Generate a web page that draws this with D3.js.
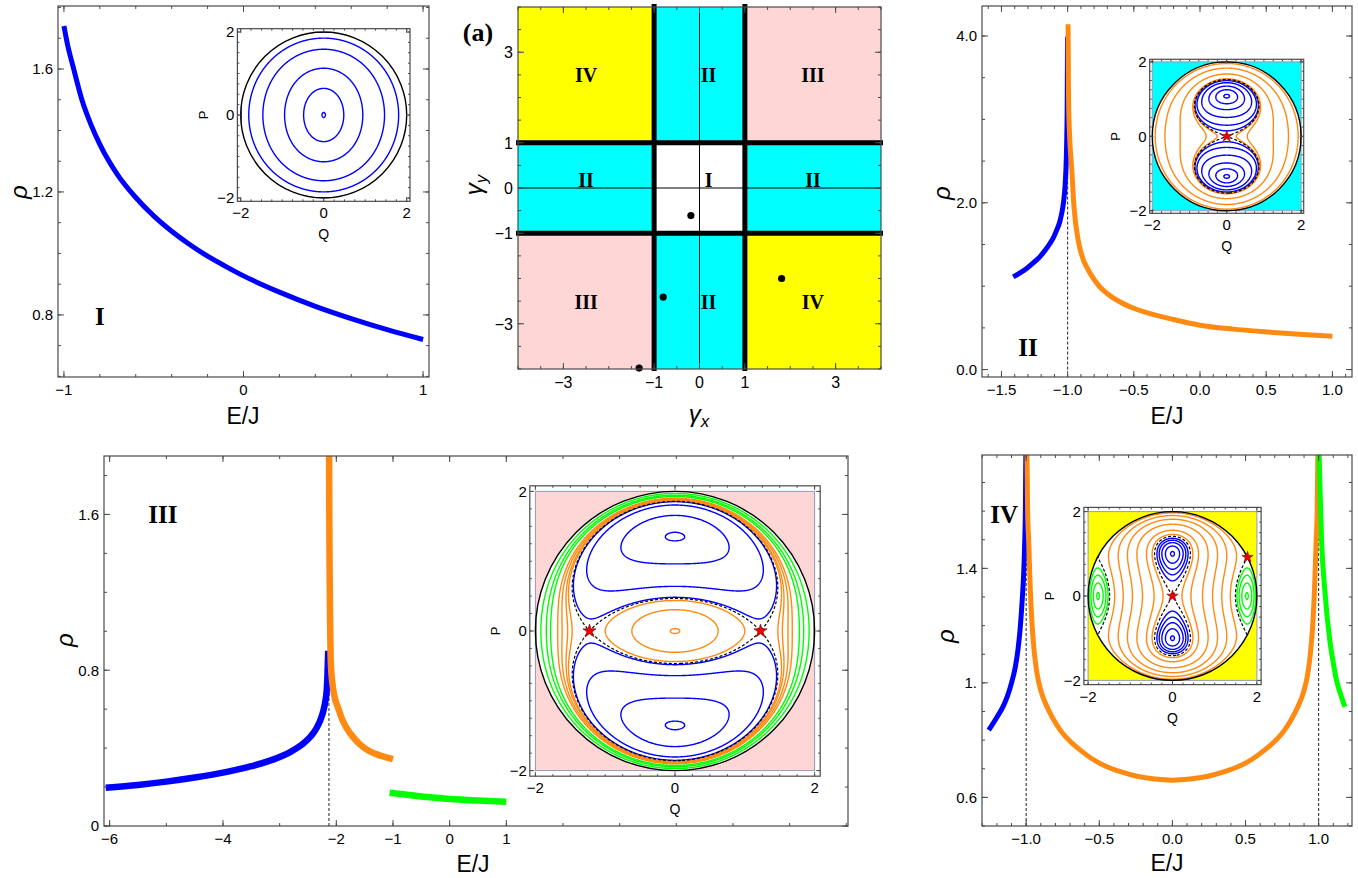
<!DOCTYPE html>
<html>
<head>
<meta charset="utf-8">
<script src="https://cdn.jsdelivr.net/npm/d3@7"></script>
<style>
  body { margin: 0; background: #fff; }
  svg { display: block; font-family: "Liberation Sans", Arial, sans-serif; }
</style>
</head>
<body>
<svg width="1358" height="878"></svg>
<script>
/* global d3 */

const svg = d3.select('svg')
const defs = svg.append('defs')

const BLUE = '#0000ff'
const ORANGE = '#ff8a12'
const GREEN = '#00ff00'
const CYAN = '#00ffff'
const YELLOW = '#ffff00'
const PINK = '#ffd6d6'
const FRAME = '#4a4a4a'

// ---------- rho(E) curves: [E/J, rho]
const curveI = [[-1, 1.74], [-0.98, 1.68], [-0.95, 1.61], [-0.9, 1.5], [-0.85, 1.42], [-0.8, 1.355], [-0.7, 1.255], [-0.6, 1.182], [-0.5, 1.122], [-0.4, 1.072], [-0.3, 1.029], [-0.2, 0.991], [-0.1, 0.958], [0, 0.927], [0.2, 0.874], [0.4, 0.828], [0.6, 0.788], [0.8, 0.752], [1, 0.72]]

const curveIIblue = [[-1.411, 1.112], [-1.36, 1.16], [-1.31, 1.212], [-1.26, 1.28], [-1.21, 1.352], [-1.17, 1.43], [-1.134, 1.512], [-1.105, 1.59], [-1.083, 1.672], [-1.06, 1.77], [-1.045, 1.873], [-1.03, 2.02], [-1.02, 2.19], [-1.013, 2.4], [-1.008, 2.67], [-1.003, 3.23], [-1.001, 3.99]]
const curveIIorange = [[-0.997, 4.14], [-0.993, 3.23], [-0.985, 2.8], [-0.97, 2.43], [-0.952, 1.95], [-0.92, 1.55], [-0.88, 1.31], [-0.856, 1.23], [-0.8, 1.08], [-0.756, 0.99], [-0.7, 0.91], [-0.604, 0.81], [-0.5, 0.735], [-0.377, 0.67], [-0.2, 0.6], [0, 0.532], [0.25, 0.485], [0.505, 0.451], [0.75, 0.423], [1.0, 0.4]]

const curveIIIblue = [[-6.07, 0.197], [-5.5, 0.211], [-5.0, 0.228], [-4.5, 0.249], [-4.0, 0.274], [-3.5, 0.307], [-3.0, 0.354], [-2.8, 0.382], [-2.6, 0.42], [-2.45, 0.461], [-2.35, 0.502], [-2.28, 0.545], [-2.23, 0.59], [-2.195, 0.638], [-2.17, 0.695], [-2.158, 0.76], [-2.15, 0.83], [-2.143, 0.9]]
const curveIIIorange = [[-2.128, 1.95], [-2.124, 1.6], [-2.118, 1.294], [-2.11, 1.05], [-2.1, 0.865], [-2.085, 0.78], [-2.06, 0.711], [-2.02, 0.65], [-1.97, 0.608], [-1.9, 0.55], [-1.823, 0.505], [-1.7, 0.455], [-1.588, 0.42], [-1.45, 0.39], [-1.294, 0.369], [-1.15, 0.355], [-1.0, 0.343]]
const curveIIIgreen = [[-1.06, 0.171], [-0.75, 0.16], [-0.5, 0.152], [-0.25, 0.145], [0, 0.139], [0.5, 0.131], [1.0, 0.124]]

const curveIVblue = [[-1.256, 0.835], [-1.199, 0.881], [-1.16, 0.915], [-1.13, 0.951], [-1.1, 1.0], [-1.074, 1.056], [-1.055, 1.12], [-1.04, 1.196], [-1.027, 1.29], [-1.017, 1.382], [-1.01, 1.49], [-1.005, 1.615], [-1.002, 1.82]]
const curveIVorange = [[-0.995, 1.82], [-0.99, 1.6], [-0.983, 1.498], [-0.972, 1.33], [-0.96, 1.207], [-0.945, 1.11], [-0.926, 1.033], [-0.895, 0.965], [-0.857, 0.916], [-0.815, 0.874], [-0.767, 0.835], [-0.7, 0.796], [-0.63, 0.765], [-0.55, 0.735], [-0.448, 0.707], [-0.35, 0.689], [-0.243, 0.674], [-0.12, 0.664], [0, 0.66], [0.12, 0.664], [0.243, 0.674], [0.35, 0.689], [0.448, 0.707], [0.55, 0.735], [0.63, 0.765], [0.7, 0.796], [0.767, 0.835], [0.815, 0.874], [0.857, 0.916], [0.895, 0.965], [0.926, 1.033], [0.945, 1.11], [0.96, 1.207], [0.972, 1.33], [0.983, 1.498], [0.99, 1.6], [0.995, 1.82]]
const curveIVgreen = [[1.002, 1.82], [1.008, 1.7], [1.02, 1.498], [1.042, 1.324], [1.076, 1.149], [1.1, 1.07], [1.122, 1.009], [1.15, 0.96], [1.179, 0.916]]

// ---------- phase diagram (a)
const gammaTicks = [-3, -1, 0, 1, 3]
const gammaTickLabels = ['\u22123', '\u22121', '0', '1', '3']
const regionColors = [
  [[-4, -1], [1, 4], YELLOW], [[-1, 1], [1, 4], CYAN], [[1, 4], [1, 4], PINK],
  [[-4, -1], [-1, 1], CYAN], [[-1, 1], [-1, 1], '#ffffff'], [[1, 4], [-1, 1], CYAN],
  [[-4, -1], [-4, -1], PINK], [[-1, 1], [-4, -1], CYAN], [[1, 4], [-4, -1], YELLOW]
]
const regionLabels = [['IV', -2.5, 2.5], ['II', 0.2, 2.5], ['III', 2.5, 2.5], ['II', -2.5, 0.17], ['I', 0.2, 0.17], ['II', 2.5, 0.17], ['III', -2.5, -2.53], ['II', 0.2, -2.53], ['IV', 2.5, -2.53]]
const boundaries = [-1, 1]
const parameterDots = [[-0.19, -0.61], [-0.8, -2.41], [1.81, -2.0], [-1.33, -3.98]]

// ---------- phase-space insets: (gamma_x, gamma_y) and contour energies
const paramsI = [-0.2, -0.6]
const levelsIblue = [-0.9993, -0.905, -0.625, -0.025, 0.57]

const paramsII = [-0.8, -2.4]
const levelsIIblue = [-1.405, -1.36, -1.28, -1.16, -1.06, -1.015]
const levelsIIorange = [-0.993, -0.96, -0.6, 0.035, 0.73]
const separatrixII = [-1]
const starsII = [[0, 0]]

const paramsIII = [-4, -12]
const levelsIIIblue = [-6.0, -4.8, -3.0, -2.2]
const levelsIIIorangeIn = [-2.0, -1.5, -1.007]
const levelsIIIorangeOut = [-1.9, -1.75, -1.5, -1.25]
const levelsIIIgreen = [-0.72, -0.32, 0.28]
const separatrixIII = [-2.125]
const starsIII = [[-1.225, 0], [1.225, 0]]

const paramsIV = [1.8, -2]
const levelsIVblue = [-1.247, -1.21, -1.16, -1.11, -1.06]
const levelsIVorange = [-0.93, -0.74, -0.35, 0.08, 0.49, 0.835]
const levelsIVgreen = [1.175, 1.14, 1.09, 1.04]
const separatrixIV = [-1, 0.999]
const starsIV = [[0, 0], [1.777, 0.918]]

// classical energy surface used for the contour insets
function energy (q, p, gx, gy) {
  const r2 = q * q + p * p
  return -1 + r2 / 2 + (1 - r2 / 4) * (gx * q * q + gy * p * p) / 2
}

// ---------- helpers
let clipCount = 0

function minorTicks (dom, step) {
  const s = Math.ceil(dom[0] / step - 1e-9)
  const e = Math.floor(dom[1] / step + 1e-9)
  return d3.range(s, e + 1).map(i => +(i * step).toFixed(6))
}

function label (g, x, y, s, o = {}) {
  const t = g.append('text')
    .attr('x', x).attr('y', y)
    .attr('text-anchor', o.anchor || 'middle')
    .attr('font-size', o.size || 15)
    .attr('fill', '#000')
    .text(s)
  if (o.rotate) t.attr('transform', `rotate(${o.rotate},${x},${y})`)
  if (o.italic) t.attr('font-style', 'italic')
  if (o.serif) t.attr('font-family', '"Liberation Serif", "Times New Roman", serif').attr('font-weight', 'bold')
  if (o.dy) t.attr('dy', o.dy)
  return t
}

function frame (g, x, y, xt, yt, o = {}) {
  const [x0, x1] = x.range()
  const [y1, y0] = y.range()
  const L = o.major || 6
  const l = o.minor || 3
  const tg = g.append('g').attr('stroke', FRAME).attr('stroke-width', 1)
  const seg = (a, b, c, d) => tg.append('line').attr('x1', a).attr('y1', b).attr('x2', c).attr('y2', d)
  minorTicks(x.domain(), xt.step).forEach(v => {
    const px = x(v)
    seg(px, y1, px, y1 - l); seg(px, y0, px, y0 + l)
  })
  minorTicks(y.domain(), yt.step).forEach(v => {
    const py = y(v)
    seg(x0, py, x0 + l, py); seg(x1, py, x1 - l, py)
  })
  xt.values.forEach(v => {
    const px = x(v)
    seg(px, y1, px, y1 - L); seg(px, y0, px, y0 + L)
  })
  yt.values.forEach(v => {
    const py = y(v)
    seg(x0, py, x0 + L, py); seg(x1, py, x1 - L, py)
  })
  g.append('rect')
    .attr('x', x0).attr('y', y0).attr('width', x1 - x0).attr('height', y1 - y0)
    .attr('fill', 'none').attr('stroke', FRAME).attr('stroke-width', 1.2)
  const fs = o.fontSize || 15
  xt.values.forEach((v, i) => label(g, x(v), y1 + (o.xOff || 18), xt.labels[i], { size: fs }))
  yt.values.forEach((v, i) => label(g, x0 - (o.yOff || 5), y(v) + fs * 0.36, yt.labels[i], { size: fs, anchor: 'end' }))
}

function clipRect (x, y) {
  const id = 'clip' + (clipCount++)
  const [x0, x1] = x.range()
  const [y1, y0] = y.range()
  defs.append('clipPath').attr('id', id).append('rect')
    .attr('x', x0).attr('y', y0).attr('width', x1 - x0).attr('height', y1 - y0)
  return `url(#${id})`
}

function mainPanel (cfg) {
  const x = d3.scaleLinear().domain(cfg.xDom).range([cfg.box[0], cfg.box[1]])
  const y = d3.scaleLinear().domain(cfg.yDom).range([cfg.box[3], cfg.box[2]])
  const g = svg.append('g')
  const cg = g.append('g').attr('clip-path', clipRect(x, y))
  const line = d3.line().x(d => x(d[0])).y(d => y(d[1])).curve(d3.curveMonotoneX)
  ;(cfg.dashed || []).forEach(d => {
    cg.append('line')
      .attr('x1', x(d[0])).attr('x2', x(d[0]))
      .attr('y1', y(d[1])).attr('y2', y(d[2]))
      .attr('stroke', '#222').attr('stroke-width', 1).attr('stroke-dasharray', '3,2')
  })
  cfg.curves.forEach(c => {
    cg.append('path').datum(c[0]).attr('d', line)
      .attr('fill', 'none').attr('stroke', c[1]).attr('stroke-width', cfg.lw)
  })
  frame(g, x, y, cfg.xt, cfg.yt, { fontSize: 15 })
  label(g, cfg.rhoPos[0], cfg.rhoPos[1], '\u03c1', { size: 24, italic: true, rotate: -90, dy: '0.35em' })
  label(g, cfg.ejPos[0], cfg.ejPos[1], 'E/J', { size: 23, dy: '0.35em' })
  label(g, x(cfg.roman[1]), y(cfg.roman[2]), cfg.roman[0], { size: 25, serif: true, dy: '0.35em' })
  return { x, y, g }
}

const N = 400

function contourLines (g, x, y, gx, gy, gr) {
  const values = new Float64Array(N * N)
  for (let j = 0; j < N; j++) {
    for (let i = 0; i < N; i++) {
      const q = -2 + 4 * (i + 0.5) / N
      const p = 2 - 4 * (j + 0.5) / N
      let v = q * q + p * p > 4 ? 1 : energy(q, p, gx, gy)
      if (gr.mask && !gr.mask(q, p)) v = -100
      values[j * N + i] = v
    }
  }
  const path = d3.geoPath(d3.geoTransform({
    point (a, b) { this.stream.point(x(-2 + 4 * a / N), y(2 - 4 * b / N)) }
  }))
  const contours = d3.contours().size([N, N]).thresholds(gr.levels)(values)
  g.selectAll(null).data(contours).join('path')
    .attr('d', path)
    .attr('fill', 'none')
    .attr('stroke', gr.color)
    .attr('stroke-width', gr.width || 1.4)
    .attr('stroke-dasharray', gr.dash || null)
}

function inset (cfg) {
  const { cx, cy, k, half } = cfg
  const x = d3.scaleLinear().domain([-half, half]).range([cx - half * k, cx + half * k])
  const y = d3.scaleLinear().domain([-half, half]).range([cy + half * k, cy - half * k])
  const g = svg.append('g')
  g.append('rect')
    .attr('x', x(-half)).attr('y', y(half)).attr('width', 2 * half * k).attr('height', 2 * half * k)
    .attr('fill', '#fff')
  if (cfg.bg) {
    g.append('rect')
      .attr('x', x(-2)).attr('y', y(2)).attr('width', 4 * k).attr('height', 4 * k)
      .attr('fill', cfg.bg).attr('stroke', '#8c9cbc').attr('stroke-width', 1)
  }
  g.append('circle').attr('cx', x(0)).attr('cy', y(0)).attr('r', 2 * k).attr('fill', '#fff')
  const id = 'clip' + (clipCount++)
  defs.append('clipPath').attr('id', id).append('circle')
    .attr('cx', x(0)).attr('cy', y(0)).attr('r', 2 * k - 0.6)
  const cg = g.append('g').attr('clip-path', `url(#${id})`)
  cfg.groups.forEach(gr => contourLines(cg, x, y, cfg.params[0], cfg.params[1], gr))
  g.append('circle').attr('cx', x(0)).attr('cy', y(0)).attr('r', 2 * k)
    .attr('fill', 'none').attr('stroke', '#000').attr('stroke-width', 1.4)
  ;(cfg.stars || []).forEach(s => {
    g.append('path')
      .attr('d', d3.symbol(d3.symbolStar, cfg.starSize || 45)())
      .attr('transform', `translate(${x(s[0])},${y(s[1])})`)
      .attr('fill', '#ee0000').attr('stroke', '#7a0000').attr('stroke-width', 0.6)
  })
  const t = { values: [-2, 0, 2], labels: ['\u22122', '0', '2'], step: 0.25 }
  frame(g, x, y, t, { values: [2, 0, -2], labels: ['2', '0', '\u22122'], step: 0.25 },
    { major: 4, minor: 2, fontSize: 15, xOff: 17, yOff: 3 })
  const [x0] = x.range()
  const [y1] = y.range()
  label(g, cx, y1 + 33, 'Q', { size: 14, dy: '0.35em' })
  label(g, x0 - 34, cy, 'P', { size: 13, rotate: -90, dy: '0.35em' })
}

// ---------- panel I
mainPanel({
  box: [58, 429, 6, 377],
  xDom: [-1.033, 1.033],
  yDom: [0.598, 1.805],
  lw: 5,
  curves: [[curveI, BLUE]],
  xt: { values: [-1, 0, 1], labels: ['\u22121', '0', '1'], step: 0.2 },
  yt: { values: [0.8, 1.2, 1.6], labels: ['0.8', '1.2', '1.6'], step: 0.1 },
  rhoPos: [19, 192],
  ejPos: [243, 416],
  roman: ['I', -0.8, 0.795]
})
inset({ cx: 323.7, cy: 115, k: 41.5, half: 2.08, params: paramsI,
  groups: [{ levels: levelsIblue, color: BLUE }] })

// ---------- panel (a): phase diagram
{
  const x = d3.scaleLinear().domain([-4, 4]).range([518, 881])
  const y = d3.scaleLinear().domain([-4, 4]).range([369, 7])
  const g = svg.append('g')
  g.selectAll('rect.region').data(regionColors).join('rect')
    .attr('x', d => x(d[0][0])).attr('width', d => x(d[0][1]) - x(d[0][0]))
    .attr('y', d => y(d[1][1])).attr('height', d => y(d[1][0]) - y(d[1][1]))
    .attr('fill', d => d[2])
  g.append('line').attr('x1', x(0)).attr('x2', x(0)).attr('y1', y(4)).attr('y2', y(-4)).attr('stroke', '#000').attr('stroke-width', 1)
  g.append('line').attr('y1', y(0)).attr('y2', y(0)).attr('x1', x(-4)).attr('x2', x(4)).attr('stroke', '#000').attr('stroke-width', 1)
  boundaries.forEach(b => {
    g.append('line').attr('x1', x(b)).attr('x2', x(b)).attr('y1', y(4) - 3).attr('y2', y(-4) + 2)
      .attr('stroke', '#000').attr('stroke-width', 5)
    g.append('line').attr('y1', y(b)).attr('y2', y(b)).attr('x1', x(-4) - 2).attr('x2', x(4) + 2)
      .attr('stroke', '#000').attr('stroke-width', 5)
  })
  regionLabels.forEach(d => label(g, x(d[1]), y(d[2]), d[0], { size: 20, serif: true, dy: '0.35em' }))
  g.selectAll('circle.dot').data(parameterDots).join('circle')
    .attr('cx', d => x(d[0])).attr('cy', d => y(d[1])).attr('r', 3.6).attr('fill', '#000')
  frame(g, x, y, { values: gammaTicks, labels: gammaTickLabels, step: 0.5 },
    { values: gammaTicks, labels: gammaTickLabels, step: 0.5 }, { fontSize: 16, xOff: 19, yOff: 5 })
  label(g, 478, 32, '(a)', { size: 26, serif: true, dy: '0.35em' })
  const gy = g.append('text').attr('transform', 'translate(482,185) rotate(-90)')
    .attr('text-anchor', 'middle').attr('font-size', 24).attr('font-style', 'italic')
  gy.append('tspan').text('\u03b3')
  gy.append('tspan').attr('font-size', 17).attr('dy', 5).text('y')
  const gxT = g.append('text').attr('x', 699).attr('y', 422)
    .attr('text-anchor', 'middle').attr('font-size', 24).attr('font-style', 'italic')
  gxT.append('tspan').text('\u03b3')
  gxT.append('tspan').attr('font-size', 17).attr('dy', 5).text('x')
}

// ---------- panel II
mainPanel({
  box: [982, 1352, 6, 377],
  xDom: [-1.647, 1.148],
  yDom: [-0.089, 4.36],
  lw: 5,
  dashed: [[-1, 0, 4.0]],
  curves: [[curveIIblue, BLUE], [curveIIorange, ORANGE]],
  xt: { values: [-1.5, -1, -0.5, 0, 0.5, 1], labels: ['\u22121.5', '\u22121.0', '\u22120.5', '0.0', '0.5', '1.0'], step: 0.1 },
  yt: { values: [0, 2, 4], labels: ['0.0', '2.0', '4.0'], step: 0.5 },
  rhoPos: [942, 193],
  ejPos: [1167, 416],
  roman: ['II', -1.3, 0.27]
})
inset({ cx: 1226.7, cy: 136.3, k: 37.2, half: 2.07, params: paramsII, bg: CYAN, stars: starsII, starSize: 40,
  groups: [
    { levels: levelsIIblue, color: BLUE },
    { levels: levelsIIorange, color: ORANGE },
    { levels: separatrixII, color: '#000', width: 1.2, dash: '3,2' }
  ] })

// ---------- panel III
const innerIII = (q, p) => Math.abs(q) < 1.225 && Math.abs(p) < 1
mainPanel({
  box: [104, 848, 456, 826],
  xDom: [-6.1, 7.03],
  yDom: [0, 1.9],
  lw: 6.5,
  dashed: [[-2.13, 0, 1.9]],
  curves: [[curveIIIblue, BLUE], [curveIIIorange, ORANGE], [curveIIIgreen, GREEN]],
  xt: { values: [-6, -4, -2, -1, 0, 1], labels: ['\u22126', '\u22124', '\u22122', '\u22121', '0', '1'], step: 1 },
  yt: { values: [0, 0.8, 1.6], labels: ['0', '0.8', '1.6'], step: 0.2 },
  rhoPos: [65, 640],
  ejPos: [473, 864],
  roman: ['III', -5.06, 1.6]
})
inset({ cx: 675, cy: 631, k: 69.8, half: 2.08, params: paramsIII, bg: PINK, stars: starsIII, starSize: 55,
  groups: [
    { levels: levelsIIIblue, color: BLUE },
    { levels: levelsIIIorangeIn, color: ORANGE, mask: innerIII },
    { levels: levelsIIIorangeOut, color: ORANGE, mask: (q, p) => !innerIII(q, p) },
    { levels: levelsIIIgreen, color: GREEN },
    { levels: separatrixIII, color: '#000', width: 1.2, dash: '3,2' }
  ] })

// ---------- panel IV
mainPanel({
  box: [982, 1352, 455, 826],
  xDom: [-1.302, 1.228],
  yDom: [0.5, 1.796],
  lw: 5,
  dashed: [[-1, 0.5, 1.8], [1, 0.5, 1.8]],
  curves: [[curveIVblue, BLUE], [curveIVorange, ORANGE], [curveIVgreen, GREEN]],
  xt: { values: [-1, -0.5, 0, 0.5, 1], labels: ['\u22121.0', '\u22120.5', '0.0', '0.5', '1.0'], step: 0.1 },
  yt: { values: [0.6, 1, 1.4], labels: ['0.6', '1.', '1.4'], step: 0.1 },
  rhoPos: [946, 636],
  ejPos: [1167, 863],
  roman: ['IV', -1.15, 1.59]
})
inset({ cx: 1172.5, cy: 596, k: 42.2, half: 2.1, params: paramsIV, bg: YELLOW, stars: starsIV, starSize: 40,
  groups: [
    { levels: levelsIVblue, color: BLUE },
    { levels: levelsIVorange, color: ORANGE },
    { levels: levelsIVgreen, color: GREEN },
    { levels: separatrixIV, color: '#000', width: 1.2, dash: '3,2' }
  ] })
</script>
</body>
</html>
